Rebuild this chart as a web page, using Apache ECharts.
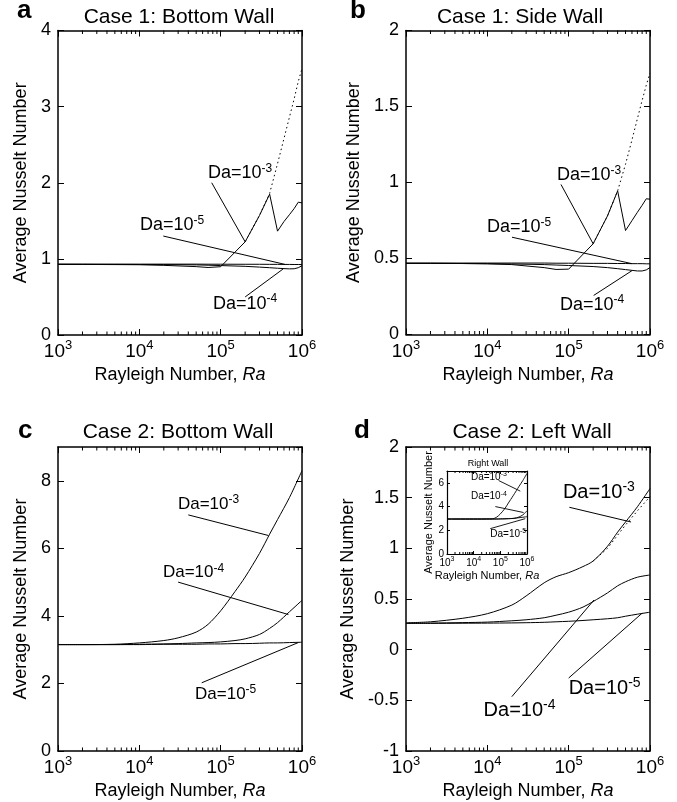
<!DOCTYPE html>
<html><head><meta charset="utf-8">
<script src="https://cdn.jsdelivr.net/npm/echarts@6/dist/echarts.min.js"></script>
<style>html,body{margin:0;padding:0;background:#fff;overflow:hidden}#wrap{position:relative;width:677px;height:802px;background:#fff;overflow:hidden}.pc{position:absolute}</style>
</head><body><div id="wrap"></div>
<script>
// ---------------- data ----------------
const raA = [1e3,2e3,5e3,1e4,2e4,5e4,7e4,1e5,2e5,3e5,4e5,5e5,6e5,7e5,8e5,9e5,1e6];
const aDa3 = [0.928,0.927,0.925,0.923,0.915,0.898,0.887,0.897,1.224,1.57,1.85,1.364,1.49,1.58,1.66,1.745,1.735];
const aDa4 = [0.928,0.928,0.927,0.926,0.925,0.921,0.917,0.912,0.902,0.892,0.884,0.877,0.872,0.869,0.870,0.884,0.910];
const aDa5 = [0.931,0.931,0.931,0.931,0.931,0.931,0.930,0.930,0.929,0.929,0.928,0.928,0.927,0.927,0.926,0.926,0.925];
const raDot = [2e5,3e5,4e5,5e5,6e5,7e5,8e5,9e5,1e6];
const aDot = [1.224,1.57,1.86,2.25,2.58,2.86,3.10,3.33,3.50];

const bDa3 = [0.468,0.468,0.467,0.465,0.460,0.440,0.428,0.430,0.597,0.780,0.945,0.684,0.749,0.804,0.850,0.893,0.890];
const bDa4 = [0.468,0.468,0.467,0.466,0.464,0.460,0.457,0.454,0.447,0.440,0.433,0.427,0.422,0.418,0.418,0.425,0.440];
const bDa5 = [0.470,0.470,0.470,0.470,0.470,0.470,0.469,0.469,0.468,0.468,0.467,0.467,0.466,0.466,0.466,0.465,0.465];
const bDot = [0.597,0.780,0.945,1.12,1.28,1.42,1.54,1.64,1.72];

const raC = [1e3,2e3,5e3,1e4,2e4,3e4,5e4,7e4,1e5,1.5e5,2e5,3e5,4e5,5e5,7e5,1e6];
const cDa3 = [3.15,3.15,3.16,3.20,3.27,3.35,3.52,3.75,4.15,4.72,5.15,5.85,6.42,6.85,7.50,8.30];
const cDa4 = [3.15,3.15,3.15,3.16,3.17,3.18,3.20,3.21,3.23,3.27,3.32,3.45,3.63,3.80,4.12,4.46];
const cDa5 = [3.15,3.15,3.15,3.15,3.16,3.16,3.16,3.17,3.17,3.18,3.18,3.19,3.20,3.20,3.21,3.22];

const dDa3 = [0.265,0.275,0.310,0.355,0.440,0.530,0.660,0.720,0.760,0.820,0.875,1.020,1.160,1.260,1.410,1.590];
const dDa4 = [0.260,0.262,0.267,0.272,0.285,0.295,0.315,0.340,0.370,0.420,0.475,0.560,0.630,0.670,0.715,0.737];
const dDa5 = [0.260,0.260,0.261,0.262,0.264,0.266,0.270,0.275,0.280,0.288,0.295,0.305,0.315,0.330,0.350,0.370];
const raDotD = [2e5,3e5,4e5,5e5,7e5,1e6];
const dDot = [0.875,1.00,1.13,1.23,1.37,1.51];

const iDa3 = [2.95,2.95,2.95,2.95,2.95,2.96,2.97,3.08,3.38,3.85,4.30,4.90,5.35,5.70,6.20,6.80];
const iDa4 = [2.95,2.95,2.95,2.95,2.95,2.95,2.95,2.95,2.96,2.97,2.98,3.00,3.05,3.12,3.30,3.65];
const iDa5 = [2.95,2.95,2.95,2.95,2.95,2.95,2.95,2.95,2.96,2.97,2.98,3.00,3.03,3.06,3.10,3.15];

// minor tick positions on the log axis
const minorTicks = [2e3,3e3,4e3,5e3,6e3,7e3,8e3,9e3,2e4,3e4,4e4,5e4,6e4,7e4,8e4,9e4,2e5,3e5,4e5,5e5,6e5,7e5,8e5,9e5];

// annotation labels [Ra, Nu, exponent] and leader lines [[Ra,Nu],[Ra,Nu]]
const aLabels = [[6.98e4,2.125,'-3'],[1.02e4,1.44,'-5'],[8.05e4,0.41,'-4']];
const aLeaders = [[[7.76e4,2.0],[2e5,1.224]],[[1.97e4,1.30],[6.2e5,0.927]],[[2e5,0.50],[5.9e5,0.87]]];
const bLabels = [[7.19e4,1.046,'-3'],[9.9e3,0.706,'-5'],[7.8e4,0.197,'-4']];
const bLeaders = [[[8.05e4,0.987],[2e5,0.597]],[[2.01e4,0.64],[6e5,0.466]],[[2.03e5,0.257],[6e5,0.42]]];
const cLabels = [[2.98e4,7.31,'-3'],[1.95e4,5.29,'-4'],[4.84e4,1.69,'-5']];
const cLeaders = [[[4e4,6.99],[3.86e5,6.38]],[[3e4,5.0],[6.8e5,4.04]],[[5.85e4,2.02],[9e5,3.21]]];
const dLabels = [[8.5e4,1.55,'-3'],[9e3,-0.597,'-4'],[1e5,-0.38,'-5']];
const dLeaders = [[[1.02e5,1.405],[5.85e5,1.26]],[[2e4,-0.464],[2.05e5,0.49]],[[1e5,-0.28],[8e5,0.36]]];
const iLabels = [[7.9e3,6.49,'-3'],[7.9e3,4.86,'-4'],[4.2e4,1.69,'-5']];
const iLeaders = [[[8.6e4,6.2],[5.6e5,5.3]],[[6.5e4,4.0],[7.4e5,3.5]],[[4.2e4,2.14],[8.6e5,2.98]]];

// ---------------- layout ----------------
const FONT = '"Liberation Sans", Arial, Helvetica, sans-serif';
const panels = [
  {box:[0,0,338,400], grid:{left:58,top:30.5,width:244,height:304.5}, y:[0,4,1], yGap:15,
   lines:[[raA,aDa3,'solid'],[raA,aDa4,'solid'],[raA,aDa5,'solid'],[raDot,aDot,'dotted']], smooth:false,
   labels:aLabels, leaders:aLeaders, annFs:18, annSup:12,
   letter:['a',17,11], title:['Case 1: Bottom Wall',179,17.5]},
  {box:[320,0,357,400], grid:{left:86,top:30.5,width:244,height:304}, y:[0,2,0.5], yGap:12,
   lines:[[raA,bDa3,'solid'],[raA,bDa4,'solid'],[raA,bDa5,'solid'],[raDot,bDot,'dotted']], smooth:false,
   labels:bLabels, leaders:bLeaders, annFs:18, annSup:12,
   letter:['b',30,11], title:['Case 1: Side Wall',200,17.5]},
  {box:[0,400,338,440], grid:{left:58,top:47,width:244,height:304}, y:[0,9,2], hideMax:true, yGap:15,
   lines:[[raC,cDa3,'solid'],[raC,cDa4,'solid'],[raC,cDa5,'solid']], smooth:0.3,
   labels:cLabels, leaders:cLeaders, annFs:17, annSup:12,
   letter:['c',18,31], title:['Case 2: Bottom Wall',178,32.5]},
  {box:[320,400,357,440], grid:{left:86,top:47,width:244,height:304}, y:[-1,2,0.5], yGap:14,
   lines:[[raC,dDa3,'solid'],[raC,dDa4,'solid'],[raC,dDa5,'solid'],[raDotD,dDot,'dotted']], smooth:0.3,
   labels:dLabels, leaders:dLeaders, annFs:20, annSup:14,
   letter:['d',34,31], title:['Case 2: Left Wall',212,32.5]},
  {box:[380,440,170,170], grid:{left:67,top:31,width:80,height:83}, y:[0,7,2], hideMax:true, inset:true, yGap:12,
   lines:[[raC,iDa3,'solid'],[raC,iDa4,'solid'],[raC,iDa5,'solid']], smooth:0.3,
   labels:iLabels, leaders:iLeaders, annFs:10, annSup:7,
   title:['Right Wall',108,24]}
];

function buildOption(p) {
  const ins = !!p.inset;
  const option = {animation:false, backgroundColor:'transparent',
    grid:[], xAxis:[], yAxis:[], series:[], graphic:[]};
  const g = Object.assign({outerBoundsMode:'none', containLabel:false}, p.grid);
  if (ins) { g.show = true; g.backgroundColor = '#fff'; g.borderWidth = 0; }
  option.grid.push(g);
  const lw = ins ? 1.2 : 1.5;
  const tickLen = ins ? 3 : 6;
  const minorLen = ins ? 2 : 3.5;
  const mkLine = () => ({show:true, onZero:false, lineStyle:{color:'#000', width:lw}});
  const mkTick = () => ({show:true, inside:true, length:tickLen, lineStyle:{color:'#000', width:1}});
  const bFs = ins ? 10 : 19, sFs = ins ? 7 : 13;
  const nameFs = ins ? 11 : 18;
  option.xAxis.push({gridIndex:0, type:'log', logBase:10, min:1e3, max:1e6, position:'bottom',
    axisLine:mkLine(), axisTick:mkTick(), splitLine:{show:false},
    axisLabel:{show:true, margin: ins ? 2 : 4, color:'#000',
      formatter: v => '{b|10}{s|' + Math.round(Math.log10(v)) + '}',
      rich:{ b:{fontSize:bFs, fontFamily:FONT, color:'#000', lineHeight: ins ? 14 : 26},
             s:{fontSize:sFs, fontFamily:FONT, color:'#000', verticalAlign:'top', lineHeight:sFs} }},
    name:'Rayleigh Number, {i|Ra}', nameLocation:'middle', nameGap: ins ? 16 : 27,
    nameTextStyle:{fontSize:nameFs, fontFamily:FONT, color:'#000',
      rich:{i:{fontStyle:'italic', fontSize:nameFs, fontFamily:FONT, color:'#000'}}}});
  option.xAxis.push({gridIndex:0, type:'log', logBase:10, min:1e3, max:1e6, position:'top',
    axisLine:mkLine(), axisTick:mkTick(), splitLine:{show:false}, axisLabel:{show:false}});
  const yl = {show:true, margin: ins ? 3 : 7, color:'#000', fontSize: ins ? 10 : 18, fontFamily:FONT};
  if (p.hideMax) yl.showMaxLabel = false;
  option.yAxis.push({gridIndex:0, type:'value', min:p.y[0], max:p.y[1], interval:p.y[2], position:'left',
    axisLine:mkLine(), axisTick:mkTick(), splitLine:{show:false}, axisLabel:yl,
    name:'Average Nusselt Number', nameLocation:'middle', nameGap: p.yGap,
    nameTextStyle:{fontSize:nameFs, fontFamily:FONT, color:'#000'}});
  option.yAxis.push({gridIndex:0, type:'value', min:p.y[0], max:p.y[1], interval:p.y[2], position:'right',
    axisLine:mkLine(), axisTick:mkTick(), splitLine:{show:false}, axisLabel:{show:false}});

  p.lines.forEach(l => {
    option.series.push({type:'line', xAxisIndex:0, yAxisIndex:0, symbol:'none', showSymbol:false,
      smooth: l[2]==='dotted' ? false : p.smooth, z:3,
      lineStyle:{color:'#000', width: ins ? 0.9 : 1, type: l[2]==='dotted' ? [1.5,3] : 'solid'},
      emphasis:{disabled:true},
      data: l[0].map((r,k) => [r, l[1][k]])});
  });
  option.series.push({type:'custom', xAxisIndex:0, yAxisIndex:0, z:4,
    data: minorTicks.map(r => [r, p.y[0]]),
    renderItem: (params, api) => {
      const x = api.coord([api.value(0), api.value(1)])[0];
      const cs = params.coordSys;
      return {type:'group', children:[
        {type:'line', shape:{x1:x, y1:cs.y+cs.height, x2:x, y2:cs.y+cs.height-minorLen}, style:{stroke:'#000', lineWidth:1}},
        {type:'line', shape:{x1:x, y1:cs.y, x2:x, y2:cs.y+minorLen}, style:{stroke:'#000', lineWidth:1}}
      ]};
    }});
  option.series.push({type:'scatter', xAxisIndex:0, yAxisIndex:0, symbolSize:0, z:5,
    itemStyle:{opacity:1}, emphasis:{disabled:true},
    data: p.labels.map(l => ({value:[l[0], l[1]], label:{formatter:'{m|Da=10}{s|' + l[2] + '}'}})),
    label:{show:true, position:'right', distance:0, color:'#000',
      rich:{ m:{fontSize:p.annFs, fontFamily:FONT, color:'#000', lineHeight:Math.round(p.annFs*1.2)},
             s:{fontSize:p.annSup, fontFamily:FONT, color:'#000', verticalAlign:'top', lineHeight:p.annSup} }},
    markLine:{silent:true, symbol:['none','none'], label:{show:false},
      lineStyle:{color:'#000', width: ins ? 0.9 : 1, type:'solid', opacity:1},
      data: p.leaders.map(l => [{coord:l[0]}, {coord:l[1]}])}});

  const txt = (x, y, text, font, align) => ({type:'text', x, y, z:10,
    style:{text, font, fill:'#000', align: align || 'center', verticalAlign:'middle'}});
  if (p.letter) option.graphic.push(txt(p.letter[1], p.letter[2], p.letter[0], 'bold 26px ' + FONT, 'left'));
  if (p.title) option.graphic.push(txt(p.title[1], p.title[2], p.title[0], (ins ? '9px ' : '21px ') + FONT));
  return option;
}

const wrap = document.getElementById('wrap');
panels.forEach(p => {
  const d = document.createElement('div');
  d.className = 'pc';
  d.style.left = p.box[0] + 'px'; d.style.top = p.box[1] + 'px';
  d.style.width = p.box[2] + 'px'; d.style.height = p.box[3] + 'px';
  wrap.appendChild(d);
  const chart = echarts.init(d, null, {renderer:'canvas'});
  chart.setOption(buildOption(p));
});
</script>
</body></html>
